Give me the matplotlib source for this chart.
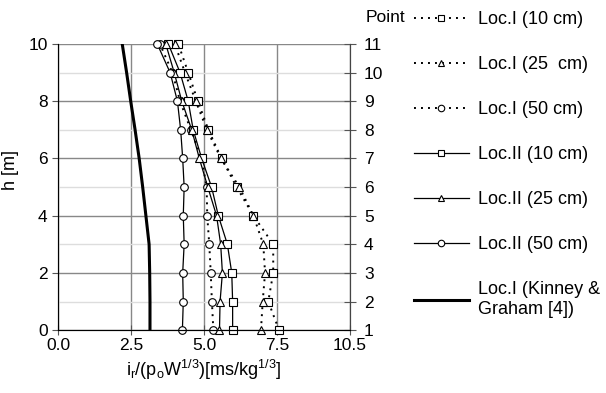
import matplotlib
matplotlib.use("Agg")
import matplotlib.pyplot as plt

plt.rcParams["font.family"] = ["Liberation Sans", "DejaVu Sans"]

# heights of the measuring points (m) and their numbers on the right axis
h = [0, 1, 2, 3, 4, 5, 6, 7, 8, 9, 10]
points = ["1", "2", "3", "4", "5", "6", "7", "8", "9", "10", "11"]

# scaled impulse values, bottom to top
loc1_10 = [7.57, 7.20, 7.37, 7.37, 6.69, 6.12, 5.60, 5.15, 4.79, 4.46, 4.12]
loc1_25 = [6.95, 7.01, 7.09, 7.03, 6.69, 6.21, 5.58, 5.10, 4.72, 4.35, 4.00]
loc1_50 = [5.32, 5.27, 5.23, 5.18, 5.11, 5.09, 4.92, 4.55, 4.18, 3.92, 3.49]
loc2_10 = [5.98, 5.98, 5.95, 5.80, 5.49, 5.26, 4.92, 4.63, 4.46, 4.18, 3.78]
loc2_25 = [5.53, 5.55, 5.63, 5.57, 5.43, 5.13, 4.84, 4.58, 4.24, 3.98, 3.69]
loc2_50 = [4.26, 4.29, 4.27, 4.32, 4.29, 4.32, 4.27, 4.20, 4.09, 3.84, 3.40]
kinney = [3.15, 3.15, 3.14, 3.12, 3.01, 2.90, 2.78, 2.64, 2.49, 2.35, 2.20]

x_ticks = [0, 2.5, 5.0, 7.5, 10]
x_labels = ["0.0", "2.5", "5.0", "7.5", "10.5"]

fig = plt.figure(figsize=(6.06, 3.93), dpi=100)
ax = fig.add_axes([0.0957, 0.160, 0.4819, 0.728])

mk = dict(mfc="white", mec="black", mew=0.8, ms=5.5, color="black", clip_on=False)
dots = dict(ls=(0, (1.0, 2.6)), lw=1.4)
ax.plot(loc1_10, h, marker="s", label="Loc.I (10 cm)", **dots, **mk)
ax.plot(loc1_25, h, marker="^", label="Loc.I (25  cm)", **dots, **mk)
ax.plot(loc1_50, h, marker="o", label="Loc.I (50 cm)", **dots, **mk)
ax.plot(loc2_10, h, ls="-", lw=0.9, marker="s", label="Loc.II (10 cm)", **mk)
ax.plot(loc2_25, h, ls="-", lw=0.9, marker="^", label="Loc.II (25 cm)", **mk)
ax.plot(loc2_50, h, ls="-", lw=0.9, marker="o", label="Loc.II (50 cm)", **mk)
ax.plot(kinney, h, ls="-", lw=2.2, color="black",
        label="Loc.I (Kinney &\nGraham [4])")

ax.set_xlim(0, 10)
ax.set_ylim(0, 10)
ax.set_xticks(x_ticks)
ax.set_xticklabels(x_labels)
ax.set_yticks([0, 2, 4, 6, 8, 10])
ax.set_yticks(h, minor=True)
ax.tick_params(labelsize=12.5, color="#555555")
ax.tick_params(axis="x", direction="inout", length=7, pad=2)
ax.tick_params(axis="y", which="major", direction="out", length=4)
ax.tick_params(axis="y", which="minor", length=0)

ax.grid(axis="x", color="#888888", lw=1.0)
ax.grid(axis="y", which="major", color="#888888", lw=1.0)
ax.grid(axis="y", which="minor", color="#dddddd", lw=1.0)
ax.set_axisbelow(True)
ax.spines["top"].set_visible(False)
for s in ["left", "bottom", "right"]:
    ax.spines[s].set_color("#444444")

ax.set_ylabel("h [m]", fontsize=13)
ax.yaxis.set_label_coords(-0.135, 0.56)
ax.set_xlabel(r"i$_\mathregular{r}$/(p$_\mathregular{o}$W$^\mathregular{1/3}$)[ms/kg$^\mathregular{1/3}$]",
              fontsize=13, labelpad=4)

ax2 = ax.twinx()
ax2.set_ylim(0, 10)
ax2.set_yticks(h)
ax2.set_yticklabels(points)
ax2.tick_params(labelsize=12.5, direction="inout", length=8, pad=6,
                color="#555555")
ax2.spines["top"].set_visible(False)
ax2.spines["right"].set_color("#444444")
ax2.text(1.055, 1.065, "Point", transform=ax.transAxes, fontsize=12.5,
         ha="left", va="bottom")

fig.legend(loc="upper left", bbox_to_anchor=(0.662, 1.003), frameon=False,
           fontsize=13, handlelength=3.05, labelspacing=1.55, markerscale=0.85,
           handletextpad=0.5, borderaxespad=0.3)

fig.savefig("out.png", dpi=100)
